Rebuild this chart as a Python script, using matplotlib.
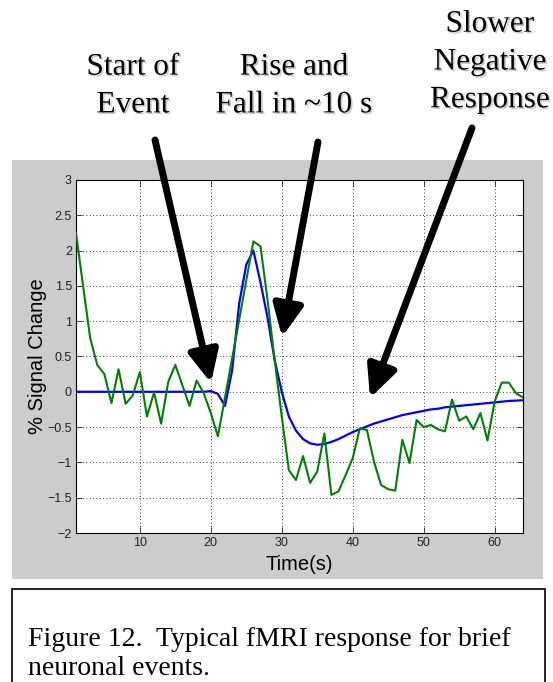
import matplotlib.pyplot as plt
import matplotlib.patheffects as pe
from matplotlib.patches import Rectangle, FancyArrowPatch, ArrowStyle

# time axis (s), one sample per second
time_s = list(range(1, 65))

# measured single-trial signal (green)
measured = [2.25, 1.5, 0.76, 0.38, 0.25, -0.16, 0.32, -0.17, -0.05, 0.28,
            -0.35, -0.01, -0.45, 0.14, 0.38, 0.09, -0.2, 0.16, -0.02, -0.3,
            -0.63, -0.08, 0.47, 1.02, 1.58, 2.13, 2.06, 1.3, 0.45, -0.35,
            -1.11, -1.25, -0.91, -1.29, -1.13, -0.59, -1.46, -1.41, -1.18, -0.94,
            -0.52, -0.54, -0.99, -1.32, -1.38, -1.4, -0.68, -1.01, -0.4, -0.5,
            -0.47, -0.53, -0.56, -0.11, -0.41, -0.35, -0.53, -0.3, -0.69, -0.14,
            0.13, 0.13, -0.02, -0.08]

# model haemodynamic response (blue)
model = [0, 0, 0, 0, 0, 0, 0, 0, 0, 0,
         0, 0, 0, 0, 0, 0, 0, 0, 0, 0.01,
         -0.03, -0.2, 0.3, 1.25, 1.8, 2.0, 1.55, 1.05, 0.45, 0.0,
         -0.35, -0.55, -0.67, -0.73, -0.75, -0.74, -0.71, -0.67, -0.62, -0.57,
         -0.53, -0.49, -0.45, -0.42, -0.39, -0.36, -0.33, -0.31, -0.29, -0.27,
         -0.25, -0.24, -0.22, -0.21, -0.2, -0.19, -0.18, -0.17, -0.16, -0.15,
         -0.14, -0.13, -0.125, -0.12]

x_ticks = [10, 20, 30, 40, 50, 60]
y_ticks = [-2, -1.5, -1, -0.5, 0, 0.5, 1, 1.5, 2, 2.5, 3]
y_tick_labels = ['\u22122', '\u22121.5', '\u22121', '\u22120.5', '0', '0.5', '1', '1.5', '2', '2.5', '3']

annotations = ['Start of\nEvent', 'Rise and\nFall in ~10 s', 'Slower\nNegative\nResponse']
caption = 'Figure 12.  Typical fMRI response for brief\nneuronal events.'

W, H = 553, 682
fig = plt.figure(figsize=(W / 100, H / 100), dpi=100)
fig.patch.set_facecolor('white')


def fx(px):
    return px / W


def fy(py):
    return 1 - py / H


# grey matlab figure panel
fig.add_artist(Rectangle((fx(12), fy(579)), fx(543) - fx(12), fy(160) - fy(579),
                         transform=fig.transFigure, facecolor='#cccccc',
                         edgecolor='none', zorder=0))

ax = fig.add_axes([fx(76), fy(533), fx(523) - fx(76), fy(180) - fy(533)])
ax.set_facecolor('white')
ax.plot(time_s, model, color='#0000ff', lw=1.6, zorder=3)
ax.plot(time_s, measured, color='#008000', lw=1.5, zorder=4)

ax.set_xlim(1, 64)
ax.set_ylim(-2, 3)
ax.set_xticks(x_ticks)
ax.set_yticks(y_ticks)
ax.set_yticklabels(y_tick_labels)
ax.grid(True, color='black', linestyle=(0, (1, 3)), lw=0.6)
ax.tick_params(direction='in', top=True, right=True, length=4, width=0.6,
               labelsize=9, colors='#222222', pad=3)
for lab in ax.get_xticklabels() + ax.get_yticklabels():
    lab.set_fontfamily('Liberation Sans')
for sp in ax.spines.values():
    sp.set_linewidth(0.8)
ax.set_xlabel('Time(s)', fontsize=14.5, family='Liberation Sans', labelpad=4)
ax.set_ylabel('% Signal Change', fontsize=14.5, family='Liberation Sans', labelpad=0)

# annotation texts, with a faint drop shadow like the original slide
serif = 'Liberation Serif'
shadow = [pe.withSimplePatchShadow(offset=(1.2, -1.2), shadow_rgbFace='#999999', alpha=0.5)]
for txt, (px, py) in zip(annotations, [(133, 86), (294, 86), (490, 62)]):
    fig.text(fx(px), fy(py), txt, ha='center', va='center', fontsize=22.5,
             family=serif, linespacing=1.4, path_effects=shadow)

# arrows
style = ArrowStyle('-|>', head_length=0.95, head_width=0.45)
for start, tip in [((155, 140), (211, 383)),
                   ((318, 142), (282, 337)),
                   ((472, 128), (370, 398))]:
    fig.add_artist(FancyArrowPatch((fx(start[0]), fy(start[1])), (fx(tip[0]), fy(tip[1])),
                                   transform=fig.transFigure, arrowstyle=style,
                                   mutation_scale=20, lw=5, color='black',
                                   shrinkA=0, shrinkB=0, zorder=10))

# caption box
fig.add_artist(Rectangle((fx(12), fy(700)), fx(545) - fx(12), fy(589) - fy(700),
                         transform=fig.transFigure, facecolor='white',
                         edgecolor='black', lw=1.2, zorder=1))
fig.text(fx(28), fy(654), caption, ha='left', va='center', fontsize=20,
         family=serif, linespacing=1.25)

fig.savefig('out.png', dpi=100)
